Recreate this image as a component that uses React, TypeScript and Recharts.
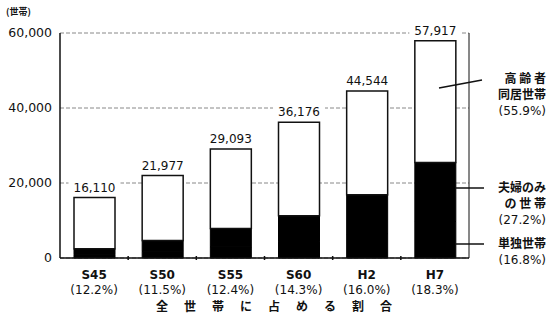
import React from "react"
import { BarChart, Bar, XAxis, YAxis, CartesianGrid, LabelList } from "recharts"

const categories = ["S45", "S50", "S55", "S60", "H2", "H7"]
const shares = ["(12.2%)", "(11.5%)", "(12.4%)", "(14.3%)", "(16.0%)", "(18.3%)"]
const totals = [16110, 21977, 29093, 36176, 44544, 57917]
const single = [1000, 1800, 3000, 4300, 6500, 9730]
const couple = [1500, 2840, 4840, 7000, 10400, 15754]
const yTicks = [0, 20000, 40000, 60000]

const data = categories.map((name, i) => ({
  name,
  single: single[i],
  couple: couple[i],
  withFamily: totals[i] - single[i] - couple[i],
  total: totals[i],
}))

const FONT = "'Noto Sans CJK JP', 'Noto Sans', sans-serif"
const NUM = "'DejaVu Sans', 'Noto Sans CJK JP', sans-serif"
const fmt = (v: number) => v.toLocaleString("en-US")

const CatTick = (props: any) => {
  const { x, y, payload } = props
  const idx = categories.indexOf(payload.value)
  const half = 409 / categories.length / 2
  return (
    <g fontFamily={NUM} fontSize={12} fill="#111" textAnchor="middle">
      {idx < categories.length - 1 && (
        <line x1={x + half} y1={y - 6} x2={x + half} y2={y - 10} stroke="#111" strokeWidth={1.5} />
      )}
      <text x={x} y={y + 13} fontWeight="bold">{payload.value}</text>
      <text x={x} y={y + 28}>{shares[idx]}</text>
    </g>
  )
}

const TotalLabel = (props: any) => {
  const { x, y, width, value } = props
  const cx = x + width / 2
  return (
    <g>
      <rect x={cx - 26} y={y - 17} width={52} height={13} fill="#fff" />
      <text x={cx} y={y - 6} textAnchor="middle" fontFamily={NUM} fontSize={12} fill="#111">
        {fmt(value)}
      </text>
    </g>
  )
}

const note: React.CSSProperties = {
  position: "absolute",
  fontFamily: FONT,
  fontSize: 12,
  fontWeight: "bold",
  color: "#111",
  whiteSpace: "pre",
  lineHeight: "16px",
  textAlign: "right",
}

export default function App() {
  return (
    <div style={{ position: "absolute", left: 0, top: 0, width: 550, height: 316, background: "#fff" }}>
      <BarChart
        width={550}
        height={316}
        data={data}
        margin={{ top: 33, right: 0, bottom: 0, left: 0 }}
        barSize={41}
      >
        <CartesianGrid vertical={false} stroke="#888" strokeDasharray="4 2" />
        <XAxis
          dataKey="name"
          axisLine={{ stroke: "#111", strokeWidth: 1.5 }}
          tickLine={false}
          tick={<CatTick />}
          interval={0}
          height={58}
        />
        <YAxis
          domain={[0, 60000]}
          ticks={yTicks}
          width={60}
          tickFormatter={fmt}
          axisLine={{ stroke: "#111", strokeWidth: 1.5 }}
          tickLine={false}
          tick={{ fontFamily: NUM, fontSize: 12.5, fill: "#111" }}
          interval={0}
        />
        <YAxis
          yAxisId="frame"
          orientation="right"
          domain={[0, 60000]}
          width={81}
          tick={false}
          tickLine={false}
          axisLine={{ stroke: "#111", strokeWidth: 1 }}
        />
        <Bar dataKey="single" stackId="a" fill="#000" stroke="#000" isAnimationActive={false} />
        <Bar dataKey="couple" stackId="a" fill="#000" stroke="#000" isAnimationActive={false} />
        <Bar dataKey="withFamily" stackId="a" fill="#fff" stroke="#111" strokeWidth={1.5} isAnimationActive={false}>
          <LabelList dataKey="total" content={<TotalLabel />} />
        </Bar>
      </BarChart>

      <div style={{ ...note, left: 6, top: 4, fontSize: 9, textAlign: "left" }}>(世帯)</div>
      <div style={{ ...note, left: 135, top: 298, width: 280, textAlign: "center", letterSpacing: 2 }}>
        全　世　帯　に　占　め　る　割　合
      </div>

      <svg style={{ position: "absolute", left: 0, top: 0 }} width={550} height={316}>
        <line x1={439} y1={88} x2={482} y2={80} stroke="#111" strokeWidth={1.5} />
        <line x1={456} y1={188} x2={484} y2={188} stroke="#111" strokeWidth={1.5} />
        <line x1={456} y1={244} x2={484} y2={244} stroke="#111" strokeWidth={1.5} />
      </svg>

      <div style={{ ...note, left: 470, top: 70, width: 76 }}>{"高 齢 者\n同居世帯\n"}<span style={{ fontFamily: NUM, fontWeight: "normal" }}>(55.9%)</span></div>
      <div style={{ ...note, left: 470, top: 179, width: 76 }}>{"夫婦のみ\nの 世 帯\n"}<span style={{ fontFamily: NUM, fontWeight: "normal" }}>(27.2%)</span></div>
      <div style={{ ...note, left: 470, top: 235, width: 76 }}>{"単独世帯\n"}<span style={{ fontFamily: NUM, fontWeight: "normal" }}>(16.8%)</span></div>
    </div>
  )
}
